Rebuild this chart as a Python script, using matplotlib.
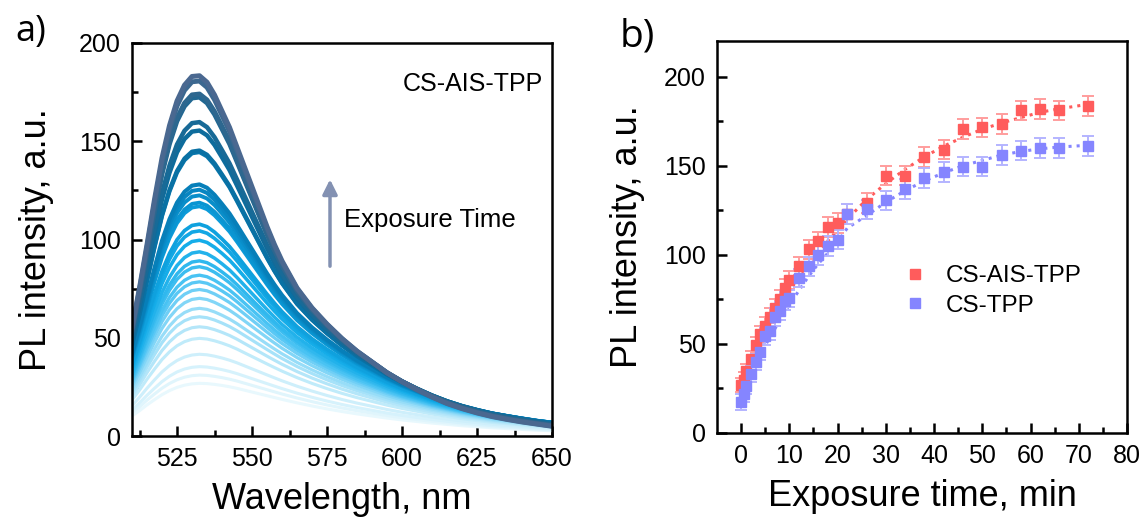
import numpy as np
import matplotlib
matplotlib.use('Agg')
import matplotlib.pyplot as plt
from matplotlib.colors import LinearSegmentedColormap

plt.rcParams['font.family'] = ['Liberation Sans', 'DejaVu Sans']

# ---- panel a: PL spectra ----
wavelength = [510, 512.5, 515, 517.5, 520, 522.5, 525, 527.5, 530, 532.5, 535, 537.5,
              540, 542.5, 545, 547.5, 550, 552.5, 555, 557.5, 560, 565, 570, 575, 580,
              585, 590, 595, 600, 605, 610, 615, 620, 625, 630, 635, 640, 645, 650]
# normalised spectral shape of the brightest (last) spectrum
shape_bright = [0.30, 0.41, 0.53, 0.655, 0.77, 0.86, 0.928, 0.972, 0.996, 0.998, 0.98, 0.945,
                0.90, 0.855, 0.80, 0.745, 0.69, 0.635, 0.58, 0.53, 0.485, 0.41, 0.355, 0.31, 0.27,
                0.235, 0.205, 0.175, 0.15, 0.128, 0.108, 0.09, 0.076, 0.064, 0.054, 0.046, 0.039, 0.033, 0.027]
# normalised spectral shape of the weakest (first) spectrum
shape_dim = [0.38, 0.48, 0.59, 0.69, 0.785, 0.862, 0.923, 0.965, 0.99, 1.0, 0.995, 0.98,
             0.96, 0.935, 0.905, 0.87, 0.835, 0.80, 0.765, 0.73, 0.695, 0.63, 0.57, 0.515, 0.465,
             0.42, 0.38, 0.34, 0.305, 0.275, 0.245, 0.22, 0.195, 0.175, 0.155, 0.14, 0.125, 0.11, 0.10]
# peak heights of the spectra, in order of exposure
peak_heights = [26.8, 31, 35.3, 41.6, 49.7, 55.6, 60.7, 65, 70.1, 74.6, 78.5, 81.9, 86.2,
                89.2, 93.8, 99.7, 104.5, 107.9, 117, 118.9, 122.6, 125.5, 128.2, 144.7,
                145.5, 155.7, 160, 172.7, 174.4, 181, 183.7]

# ---- panel b: peak intensity vs exposure time ----
time_min = [0, 0.5, 1, 2, 3, 4, 5, 6, 7, 8, 9, 10, 12, 14, 16, 18, 20, 22, 26, 30,
            34, 38, 42, 46, 50, 54, 58, 62, 66, 72]
cs_ais_tpp = [27, 30, 35, 41.5, 49.5, 55.5, 60, 65, 70, 75, 81.5, 86, 93.5, 103, 107.5,
              115.5, 118, 123, 129, 144.5, 144.5, 155, 159, 170.5, 171.5, 173.5, 181, 182, 181, 183.5]
cs_ais_tpp_err = [4, 4, 4, 4.5, 4.5, 4.5, 5, 5, 5, 5, 5, 5, 5, 5.5, 5.5, 5.5, 5.5, 5.5, 5.5, 5.5,
                  5.5, 5.5, 5.5, 5.5, 5.5, 5.5, 5.5, 5.5, 5.5, 5.5]
cs_tpp = [17.5, 22, 26.5, 33, 40, 45.5, 54.5, 57, 65, 68.5, 74, 75.5, 87, 93.5, 100, 105,
          108.5, 123, 125.5, 130.5, 137, 143, 146.5, 149.5, 149.5, 156, 158.5, 160, 160, 161]
cs_tpp_err = [4.5, 4.5, 4.5, 4.5, 4.5, 4.5, 5, 5, 5, 5, 5, 5, 5, 5.5, 5.5, 5.5, 5.5, 5.5, 5.5, 5.5,
              5.5, 5.5, 5.5, 5.5, 5.5, 5.5, 5.5, 5.5, 5.5, 5.5]
# dotted fit curves
fit_time = [0, 1, 2, 3, 4, 5, 6, 8, 10, 12, 14, 16, 18, 20, 22, 26, 30, 34, 38, 42, 46,
            50, 54, 58, 62, 66, 72]
fit_cs_ais_tpp = [26, 33, 40, 46, 52, 57, 62, 71, 80, 88, 95, 102, 108, 114, 120, 131, 140,
                  148, 155, 161, 166, 170.5, 174, 177, 180, 182, 184.5]
fit_cs_tpp = [17, 24, 31, 37, 43, 49, 54, 63, 72, 80, 88, 95, 101, 107, 115, 122, 129.5,
              136, 141.5, 146, 150, 153, 156, 158, 159.5, 160.5, 161.5]

fig = plt.figure(figsize=(11.43, 5.2), dpi=100)
ax1 = fig.add_axes([132 / 1143, 1 - 436 / 520, 420 / 1143, 393 / 520])
ax2 = fig.add_axes([717 / 1143, 1 - 433 / 520, 410 / 1143, 392 / 520])

blues = LinearSegmentedColormap.from_list('pl', [
    (0.00, '#e8f8fd'), (0.10, '#cdeffb'), (0.22, '#9edff8'), (0.35, '#4fc5f4'),
    (0.50, '#15ade9'), (0.62, '#0a98d6'), (0.72, '#0782bd'), (0.82, '#0a6d9e'),
    (0.92, '#27678f'), (1.00, '#4a6890')])

wl = np.array(wavelength)
sb = np.array(shape_bright)
sd = np.array(shape_dim)
pmin, pmax = min(peak_heights), max(peak_heights)
n = len(peak_heights)
for i, p in enumerate(peak_heights):
    w = (pmax - p) / (pmax - pmin)
    shape = w * sd + (1 - w) * sb
    frac = i / (n - 1)
    ax1.plot(wl, p * shape, color=blues(frac), lw=2.2 + 1.4 * frac ** 2,
             solid_capstyle='round')

ax1.set_xlim(510, 650)
ax1.set_ylim(0, 200)
ax1.set_xticks([525, 550, 575, 600, 625, 650])
ax1.set_xticks(np.arange(512.5, 650, 25), minor=True)
ax1.set_yticks([0, 50, 100, 150, 200])
ax1.set_yticks([25, 75, 125, 175], minor=True)
ax1.set_xlabel('Wavelength, nm', fontsize=26, labelpad=8)
ax1.set_ylabel('PL intensity, a.u.', fontsize=26, labelpad=18)
ax1.text(647, 179, 'CS-AIS-TPP', fontsize=18, ha='right', va='center')
ax1.annotate('', xy=(576, 132), xytext=(576, 85),
             arrowprops=dict(arrowstyle='-|>', color='#8391b2', lw=2.5, mutation_scale=22))
ax1.text(580.5, 110, 'Exposure Time', fontsize=18.5, ha='left', va='center')

red = '#ff5c5c'
blue = '#8585ff'
ax2.plot(fit_time, fit_cs_ais_tpp, ':', color=red, lw=2.2)
ax2.plot(fit_time, fit_cs_tpp, ':', color=blue, lw=2.2)
ax2.errorbar(time_min, cs_ais_tpp, yerr=cs_ais_tpp_err, fmt='s', color=red, ms=7.5,
             ecolor='#ff9d9d', elinewidth=1.4, capsize=4, capthick=1.4, label='CS-AIS-TPP')
ax2.errorbar(time_min, cs_tpp, yerr=cs_tpp_err, fmt='s', color=blue, ms=7.5,
             ecolor='#b4b4ff', elinewidth=1.4, capsize=4, capthick=1.4, label='CS-TPP')

ax2.set_xlim(-5, 80)
ax2.set_ylim(0, 220)
ax2.set_xticks(np.arange(0, 81, 10))
ax2.set_xticks(np.arange(5, 80, 10), minor=True)
ax2.set_yticks([0, 50, 100, 150, 200])
ax2.set_yticks([25, 75, 125, 175], minor=True)
ax2.set_xlabel('Exposure time, min', fontsize=26, labelpad=8)
ax2.set_ylabel('PL intensity, a.u.', fontsize=26, labelpad=14)
h, l = ax2.get_legend_handles_labels()
ax2.legend([hh[0] for hh in h], l, loc='center left', bbox_to_anchor=(0.40, 0.362),
           frameon=False, fontsize=17.5, handlelength=1.0, handletextpad=0.75,
           labelspacing=0.3, markerscale=0.9)

for ax in (ax1, ax2):
    for s in ax.spines.values():
        s.set_linewidth(1.8)
    ax.tick_params(which='both', direction='in', width=1.8, labelsize=18, pad=8,
                   top=False, right=False)
    ax.tick_params(which='major', length=7)
    ax.tick_params(which='minor', length=4)

fig.text(15 / 1143, 1 - 32 / 520, 'a)', fontsize=26, family='Open Sans', va='center')
fig.text(620 / 1143, 1 - 37 / 520, 'b)', fontsize=28, family='Open Sans', va='center')

fig.savefig('out.png', dpi=100)
